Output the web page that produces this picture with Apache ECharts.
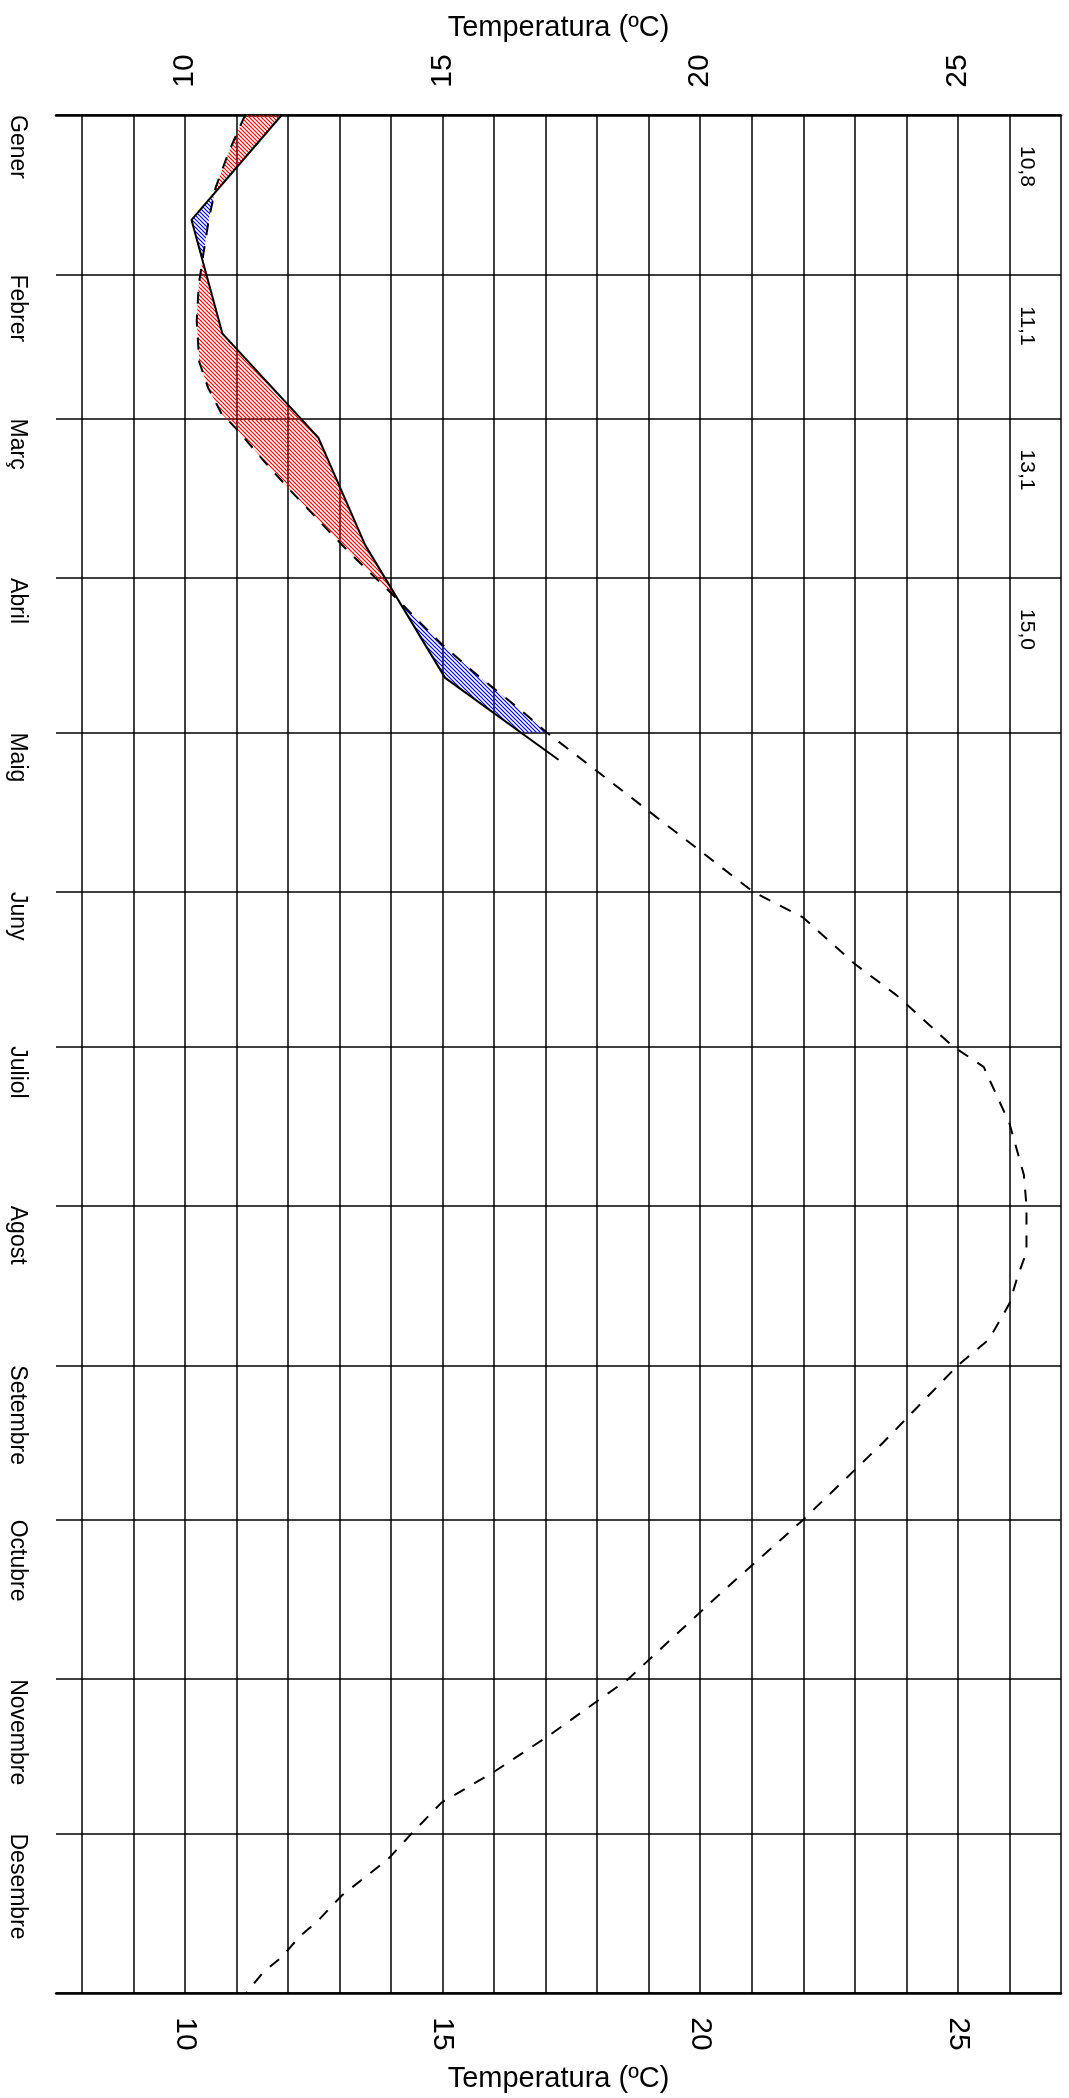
<!DOCTYPE html>
<html>
<head>
<meta charset="utf-8">
<script src="https://cdn.jsdelivr.net/npm/echarts@6/dist/echarts.min.js"></script>
<style>
html,body{margin:0;padding:0;background:#fff;}
#chart{width:1069px;height:2098px;}
</style>
</head>
<body>
<div id="chart"></div>
<script>
// ---------------- DATA ----------------
const months = ['Gener','Febrer','Març','Abril','Maig','Juny','Juliol','Agost','Setembre','Octubre','Novembre','Desembre'];
const monthDays = [31,28,31,30,31,30,31,31,30,31,30,31];
const tempTicks = [10,15,20,25];
const monthlyMeanLabels = ['10,8','11,1','13,1','15,0'];

// observed temperature (solid line): day of year / °C
const observedDay  = [0, 20.4, 42.5, 62.7, 83.6, 109.4, 125.3];
const observedTemp = [11.88, 10.13, 10.73, 12.59, 13.50, 15.05, 17.25];

// normal (climatological) temperature (dashed line): day of year / °C
const normalDay  = [0, 7, 14, 20, 27, 33, 40, 48, 53, 58, 61, 68, 73, 82, 85, 93, 99, 103, 109, 115, 120, 126,
                    151, 156, 165, 171, 181, 185, 196, 206, 212, 221, 226, 231, 238, 243, 258, 273, 287, 304,
                    315, 322, 328, 334, 339, 346, 351, 354, 358, 361, 365];
const normalTemp = [11.17, 10.86, 10.60, 10.47, 10.36, 10.27, 10.23, 10.28, 10.45, 10.71, 11.00, 11.60, 12.05, 12.90, 13.19, 14.01, 14.60, 15.00, 15.69, 16.44, 17.02, 17.80,
                    21.03, 22.00, 23.00, 23.80, 24.90, 25.50, 26.00, 26.28, 26.33, 26.33, 26.15, 26.00, 25.60, 25.00, 23.55, 22.00, 20.43, 18.60,
                    17.06, 16.00, 14.98, 14.40, 13.94, 13.05, 12.58, 12.23, 11.88, 11.52, 11.19];

const fillEndDay = 120; // anomaly shading runs until 1 May

// ---------------- helpers ----------------
const monthStart = [];
(function(){ let a = 0; for (const n of monthDays) { monthStart.push(a); a += n; } monthStart.push(a); })();
const yearDays = monthStart[monthStart.length - 1];

function interp(xs, ys, d) {
  if (d <= xs[0]) return ys[0];
  for (let i = 0; i < xs.length - 1; i++) {
    if (d >= xs[i] && d <= xs[i + 1]) {
      const t = (d - xs[i]) / (xs[i + 1] - xs[i]);
      return ys[i] + t * (ys[i + 1] - ys[i]);
    }
  }
  return ys[ys.length - 1];
}

// Build anomaly polygons (observed vs normal) in data space
function buildSegments() {
  let br = [0, fillEndDay];
  observedDay.concat(normalDay).forEach(d => { if (d > 0 && d < fillEndDay) br.push(d); });
  br = Array.from(new Set(br)).sort((a, b) => a - b);
  const pts = [];
  for (let i = 0; i < br.length; i++) {
    const d = br[i];
    const o = interp(observedDay, observedTemp, d), n = interp(normalDay, normalTemp, d);
    if (i > 0) {
      const p = pts[pts.length - 1];
      const diffA = p.o - p.n, diffB = o - n;
      if (diffA * diffB < 0) {
        const c = p.d + (d - p.d) * diffA / (diffA - diffB);
        const oc = interp(observedDay, observedTemp, c);
        pts.push({ d: c, o: oc, n: oc });
      }
    }
    pts.push({ d: d, o: o, n: n });
  }
  const segs = [];
  let cur = null;
  for (let i = 0; i < pts.length; i++) {
    const p = pts[i];
    const diff = p.o - p.n;
    const sign = diff > 1e-9 ? 1 : (diff < -1e-9 ? -1 : 0);
    if (!cur) { cur = { sign: sign, pts: [p] }; continue; }
    if (cur.sign === 0) cur.sign = sign;
    if (sign !== 0 && sign !== cur.sign) {
      segs.push(cur);
      const last = cur.pts[cur.pts.length - 1];
      cur = { sign: sign, pts: [last, p] };
    } else {
      cur.pts.push(p);
      if (sign === 0 && i < pts.length - 1) {
        segs.push(cur);
        cur = { sign: 0, pts: [p] };
      }
    }
  }
  if (cur && cur.pts.length > 1) segs.push(cur);
  return segs.filter(s => s.pts.length > 1 && s.sign !== 0).map(s => ({
    sign: s.sign,
    poly: s.pts.map(p => [p.o, p.d]).concat(s.pts.slice().reverse().map(p => [p.n, p.d]))
  }));
}
const segments = buildSegments();

function hatch(color) {
  const c = document.createElement('canvas');
  c.width = 4; c.height = 4;
  const g = c.getContext('2d');
  g.strokeStyle = color; g.lineWidth = 1.2;
  g.beginPath();
  g.moveTo(-1, -1); g.lineTo(5, 5);
  g.moveTo(-1, 3); g.lineTo(1, 5);
  g.moveTo(3, -1); g.lineTo(5, 1);
  g.stroke();
  return c;
}
const warmPattern = { image: hatch('#ff0000'), repeat: 'repeat' };
const coldPattern = { image: hatch('#0000ff'), repeat: 'repeat' };

const ySplitColors = [];
for (let d = 0; d <= yearDays; d++) ySplitColors.push(monthStart.indexOf(d) >= 0 ? '#000' : 'rgba(0,0,0,0)');

const FONT = "'Liberation Sans', Arial, sans-serif";

const tempAxisBase = {
  type: 'value', min: 7.5, max: 27, interval: 0.5,
  axisTick: { show: false },
  axisLine: { show: true, onZero: false, lineStyle: { color: '#000', width: 2.5 } },
  axisLabel: {
    rotate: -90, fontSize: 30, color: '#000', fontFamily: FONT,
    align: 'center', verticalAlign: 'middle',
    formatter: v => (tempTicks.indexOf(v) >= 0 ? String(v) : '')
  },
  name: 'Temperatura (ºC)', nameLocation: 'middle',
  nameTextStyle: { fontSize: 29, color: '#000', fontFamily: FONT },
  nameMoveOverlap: false
};

const chart = echarts.init(document.getElementById('chart'), null, { renderer: 'canvas' });
chart.setOption({
  animation: false,
  backgroundColor: '#fff',
  grid: { left: 56, right: 8, top: 115, bottom: 103, containLabel: false },
  xAxis: [
    Object.assign({}, tempAxisBase, {
      position: 'top', nameGap: 73,
      axisLabel: Object.assign({}, tempAxisBase.axisLabel, { margin: 44 }),
      splitLine: { show: true, lineStyle: { color: ['rgba(0,0,0,0)', '#000'], width: 1.5 } }
    }),
    Object.assign({}, tempAxisBase, {
      position: 'bottom', nameGap: 71,
      axisLabel: Object.assign({}, tempAxisBase.axisLabel, { margin: 41 }),
      splitLine: { show: false }
    })
  ],
  yAxis: {
    type: 'value', inverse: true, min: 0, max: yearDays, interval: 1,
    axisLine: { show: false }, axisTick: { show: false },
    splitLine: { show: true, lineStyle: { color: ySplitColors, width: 1.5 } },
    axisLabel: {
      rotate: -90, margin: 39, fontSize: 23, color: '#000', fontFamily: FONT,
      align: 'left', verticalAlign: 'middle',
      formatter: v => { const i = monthStart.indexOf(v); return (i >= 0 && i < months.length) ? months[i] : ''; }
    }
  },
  series: [
    {
      type: 'custom', name: 'anomalia', xAxisIndex: 0, yAxisIndex: 0, z: 1,
      data: segments.map((s, i) => [i]),
      renderItem: function (params, api) {
        const s = segments[params.dataIndex];
        return {
          type: 'polygon',
          shape: { points: s.poly.map(p => api.coord(p)) },
          style: { fill: s.sign > 0 ? warmPattern : coldPattern, stroke: null }
        };
      },
      silent: true
    },
    {
      type: 'line', name: 'normal', xAxisIndex: 0, yAxisIndex: 0, z: 3,
      data: normalDay.map((d, i) => [normalTemp[i], d]),
      showSymbol: false, symbol: 'none',
      lineStyle: { color: '#000', width: 2, type: [12, 11] },
      silent: true
    },
    {
      type: 'line', name: 'observada', xAxisIndex: 0, yAxisIndex: 0, z: 4,
      data: observedDay.map((d, i) => [observedTemp[i], d]),
      showSymbol: false, symbol: 'none',
      lineStyle: { color: '#000', width: 2, type: 'solid' },
      silent: true
    },
    {
      type: 'custom', name: 'mitjana', xAxisIndex: 0, yAxisIndex: 0, z: 5,
      data: monthlyMeanLabels.map((t, i) => [26.33, monthStart[i] + 10]),
      renderItem: function (params, api) {
        const p = api.coord([api.value(0), api.value(1)]);
        return {
          type: 'text', x: p[0], y: p[1], rotation: -Math.PI / 2,
          style: { text: monthlyMeanLabels[params.dataIndex], fontSize: 21, fontFamily: FONT,
                   fill: '#000', align: 'center', verticalAlign: 'middle' }
        };
      },
      silent: true
    }
  ]
});
</script>
</body>
</html>
